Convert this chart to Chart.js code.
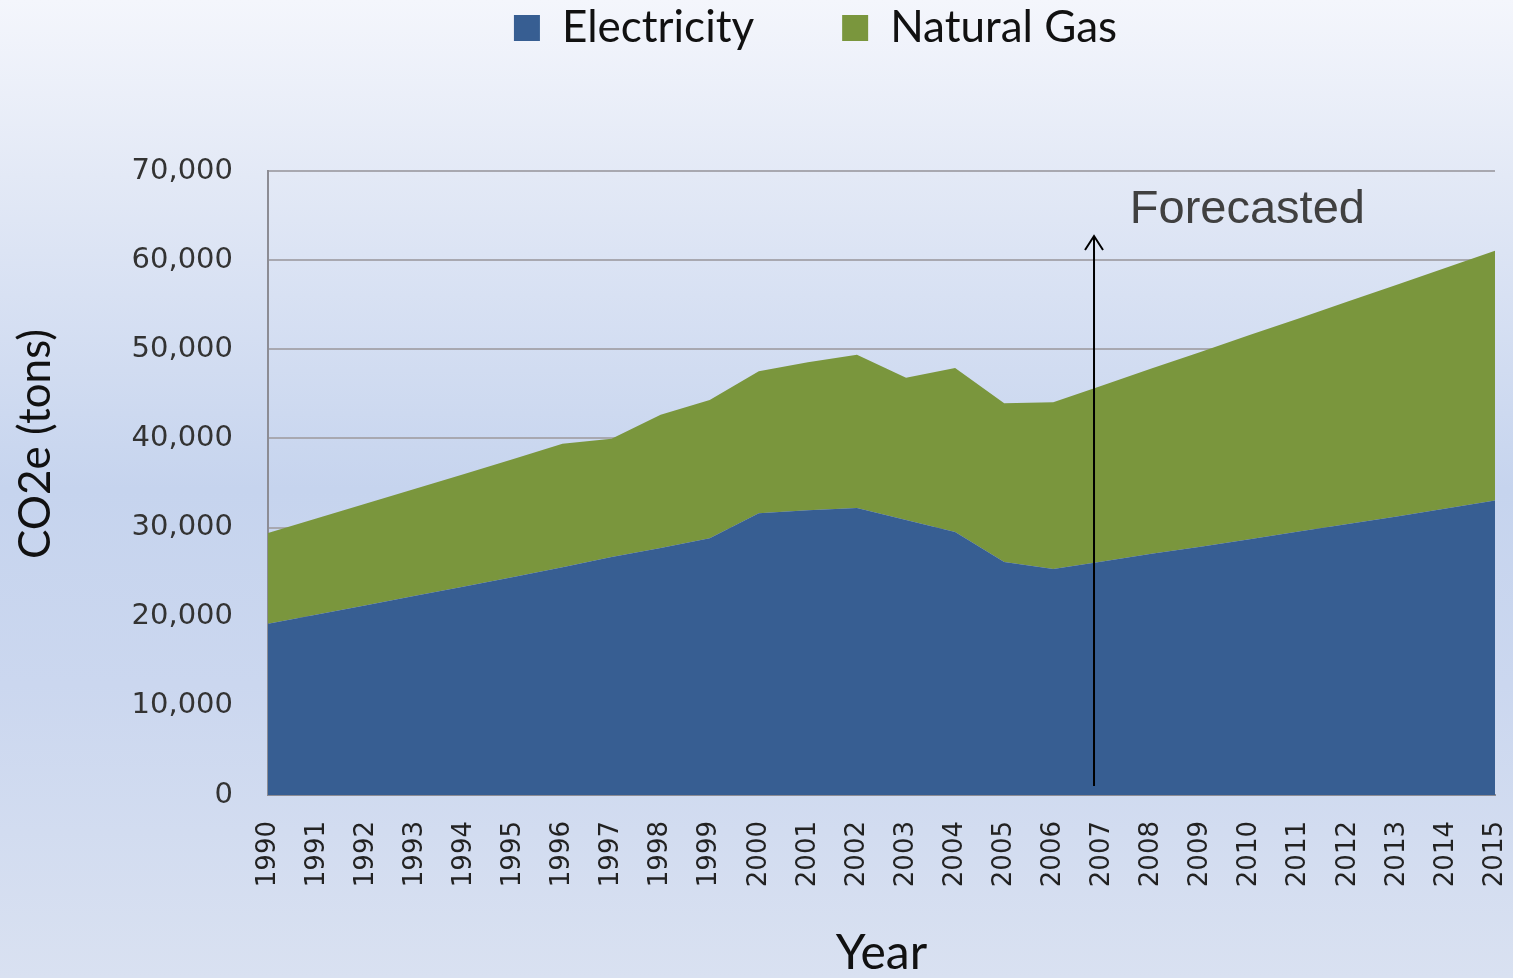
<!DOCTYPE html>
<html>
<head>
<meta charset="utf-8">
<script src="https://cdn.jsdelivr.net/npm/chart.js@4.4.1/dist/chart.umd.min.js"></script>
<style>
  html, body { margin: 0; padding: 0; }
  body {
    width: 1513px; height: 978px; overflow: hidden;
    background: linear-gradient(to bottom, #f4f6fc 0%, #e3e9f6 18%, #c6d4ee 50%, #cbd7ef 70%, #d9e1f1 100%);
  }
  #wrap { position: relative; width: 1513px; height: 978px; }
</style>
</head>
<body>
<div id="wrap"><canvas id="co2Chart"></canvas></div>
<script>
const years = ['1990', '1991', '1992', '1993', '1994', '1995', '1996', '1997', '1998', '1999',
  '2000', '2001', '2002', '2003', '2004', '2005', '2006', '2007', '2008', '2009',
  '2010', '2011', '2012', '2013', '2014', '2015'];

// tons CO2e
const electricity = [19200, 20250, 21300, 22350, 23400, 24450, 25550, 26700, 27700, 28800,
  31600, 31950, 32200, 30850, 29500, 26150, 25350, 26200, 27050, 27850,
  28700, 29550, 30400, 31250, 32150, 33050];
const naturalGas = [10200, 10800, 11400, 12000, 12600, 13250, 13850, 13250, 14950, 15500,
  15950, 16600, 17200, 15950, 18400, 17800, 18700, 19750, 20800, 21850,
  22900, 23900, 24950, 26000, 27000, 28000];

const yTicks = [0, 10000, 20000, 30000, 40000, 50000, 60000, 70000];

// where the forecast starts (fractional year index) and the arrow span
const forecastAt = 16.83;
const arrowFrom = 1000;
const arrowTo = 62700;

const forecastMarker = {
  id: 'forecastMarker',
  afterLayout(chart) {
    // pull the legend up to the top edge and a bit right, like the original
    const lg = chart.legend;
    lg.top -= 111; lg.bottom -= 111;
    lg.left += 68; lg.right += 68;
  },
  afterDatasetsDraw(chart) {
    const ctx = chart.ctx;
    const x = chart.scales.x.getPixelForValue(forecastAt);
    const y0 = chart.scales.y.getPixelForValue(arrowFrom);
    const y1 = chart.scales.y.getPixelForValue(arrowTo);
    ctx.save();
    ctx.strokeStyle = '#000';
    ctx.lineWidth = 2;
    ctx.beginPath();
    ctx.moveTo(x, y0);
    ctx.lineTo(x, y1);
    ctx.moveTo(x - 9, y1 + 14);
    ctx.lineTo(x, y1);
    ctx.lineTo(x + 9, y1 + 14);
    ctx.stroke();
    ctx.fillStyle = '#404040';
    ctx.font = '47px "Liberation Sans", Arial, sans-serif';
    ctx.textBaseline = 'middle';
    ctx.textAlign = 'left';
    ctx.fillText('Forecasted', chart.scales.x.getPixelForValue(17.56), chart.scales.y.getPixelForValue(65600));

    // y axis title, sitting a little above the plot's middle
    ctx.translate(36, 444);
    ctx.rotate(-Math.PI / 2);
    ctx.fillStyle = '#111';
    ctx.font = '44px Lato, "Open Sans", sans-serif';
    ctx.textAlign = 'center';
    ctx.fillText('CO2e (tons)', 0, 0);
    ctx.restore();
  }
};

new Chart(document.getElementById('co2Chart'), {
  type: 'line',
  data: {
    labels: years,
    datasets: [
      {
        label: 'Electricity',
        data: electricity,
        backgroundColor: '#375e92',
        borderColor: '#375e92',
        borderWidth: 0,
        pointRadius: 0,
        fill: 'origin'
      },
      {
        label: 'Natural Gas',
        data: naturalGas,
        backgroundColor: '#7a963d',
        borderColor: '#7a963d',
        borderWidth: 0,
        pointRadius: 0,
        fill: '-1'
      }
    ]
  },
  options: {
    responsive: true,
    maintainAspectRatio: false,
    animation: false,
    layout: { padding: { top: 29, right: 18, bottom: 0, left: 0 } },
    plugins: {
      tooltip: { enabled: false },
      legend: {
        position: 'top',
        labels: {
          font: { family: 'Lato, "Open Sans", sans-serif', size: 44 },
          color: '#111',
          boxWidth: 26,
          boxHeight: 26,
          padding: 88
        }
      }
    },
    scales: {
      x: {
        grid: { display: false },
        border: { display: true, color: '#8c8c94', width: 2 },
        ticks: {
          autoSkip: false,
          maxRotation: 90,
          minRotation: 90,
          padding: 18,
          color: '#222',
          font: { family: '"DejaVu Sans", Verdana, sans-serif', size: 26 }
        },
        title: {
          display: true,
          text: 'Year',
          color: '#111',
          font: { family: 'Lato, "Open Sans", sans-serif', size: 48, lineHeight: 1 },
          padding: { top: 30, bottom: 0 }
        },
        afterFit(scale) {
          scale.height = 183;
          scale.paddingLeft = 0;
          scale.paddingRight = 0;
        }
      },
      y: {
        stacked: true,
        min: 0,
        max: 70000,
        afterBuildTicks(scale) { scale.ticks = yTicks.map(v => ({ value: v })); },
        grid: { color: '#a8a8b0', lineWidth: 2, drawTicks: false },
        border: { display: true, color: '#8c8c94', width: 2 },
        ticks: {
          padding: 35,
          color: '#333',
          font: { family: '"DejaVu Sans", Verdana, sans-serif', size: 29 },
          callback: v => v.toLocaleString('en-US')
        },
        afterFit(scale) { scale.width = 268; }
      }
    }
  },
  plugins: [forecastMarker]
});
</script>
</body>
</html>
